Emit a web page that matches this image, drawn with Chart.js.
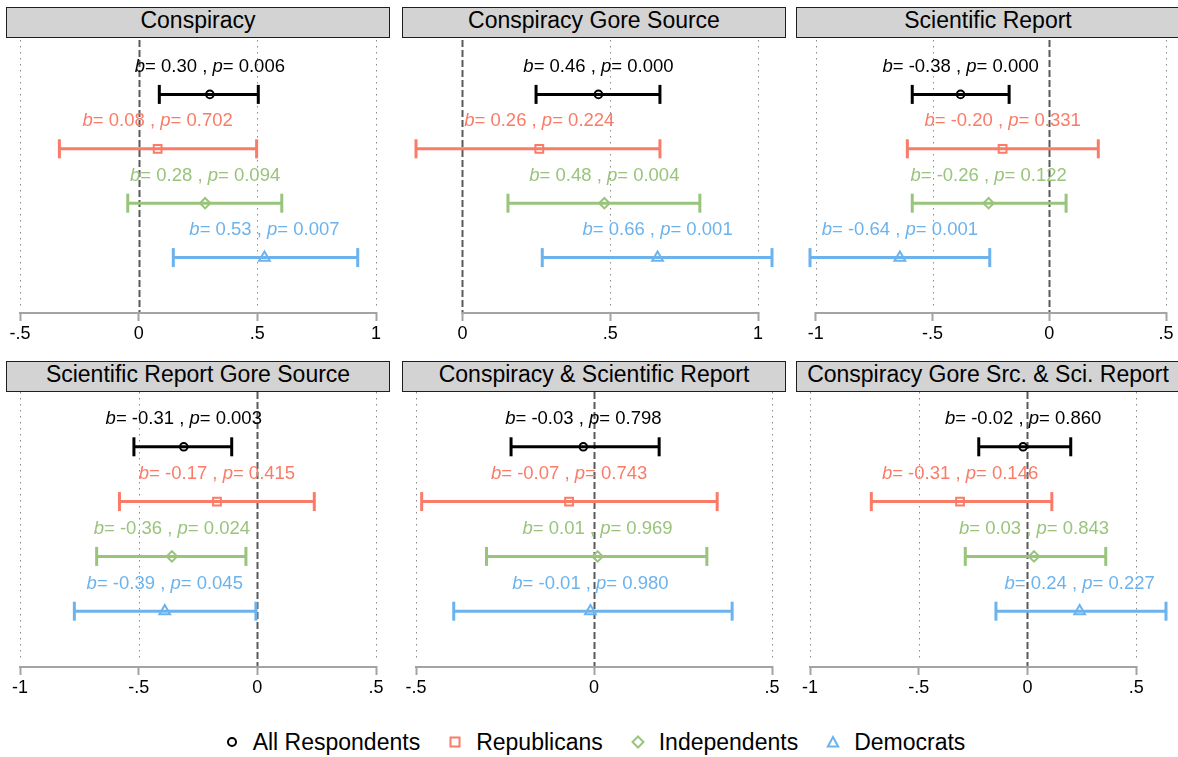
<!DOCTYPE html>
<html>
<head>
<meta charset="utf-8">
<script src="https://cdn.jsdelivr.net/npm/chart.js@4.4.1/dist/chart.umd.min.js"></script>
<style>
  html, body { margin: 0; padding: 0; background: #fff; width: 1178px; height: 757px; overflow: hidden;
    font-family: "Liberation Sans", Arial, Helvetica, sans-serif; }
  .panel-title { position: absolute; width: 384px; height: 31px; box-sizing: border-box; border: 1.5px solid #1e1e1e;
    background: #d3d3d3; font-size: 23px; line-height: 24px; text-align: center; color: #000; white-space: nowrap; overflow: hidden; }
  .panel-canvas { position: absolute; }
  #legend { position: absolute; top: 728px; left: 6px; width: 1178px; display: flex; justify-content: center;
    align-items: center; font-size: 23px; line-height: 28px; color: #000; }
  #legend .item { display: flex; align-items: center; margin: 0 14px; }
  #legend svg { margin-right: 14px; }
</style>
</head>
<body>
<div id="legend"></div>
<script>
// ---- data ----
const panelTitles = ['Conspiracy', 'Conspiracy Gore Source', 'Scientific Report',
  'Scientific Report Gore Source', 'Conspiracy & Scientific Report', 'Conspiracy Gore Src. & Sci. Report'];
const groupNames = ['All Respondents', 'Republicans', 'Independents', 'Democrats'];
const groupColors = ['#000000', '#fa7b67', '#99c47b', '#6cb3ee'];
const groupMarkers = ['circle', 'rect', 'rectRot', 'triangle'];
const markerRadius = [3.8, 5.5, 5.2, 6.2];

// one row per panel, one value per group
const estimates = [
  [0.30, 0.08, 0.28, 0.53],
  [0.46, 0.26, 0.48, 0.66],
  [-0.38, -0.20, -0.26, -0.64],
  [-0.31, -0.17, -0.36, -0.39],
  [-0.03, -0.07, 0.01, -0.01],
  [-0.02, -0.31, 0.03, 0.24]
];
const pValues = [
  [0.006, 0.702, 0.094, 0.007],
  [0.000, 0.224, 0.004, 0.001],
  [0.000, 0.331, 0.122, 0.001],
  [0.003, 0.415, 0.024, 0.045],
  [0.798, 0.743, 0.969, 0.980],
  [0.860, 0.146, 0.843, 0.227]
];
const ciLower = [
  [0.087, -0.334, -0.046, 0.146],
  [0.249, -0.157, 0.154, 0.270],
  [-0.587, -0.608, -0.587, -1.025],
  [-0.520, -0.581, -0.677, -0.771],
  [-0.233, -0.484, -0.302, -0.394],
  [-0.224, -0.718, -0.286, -0.145]
];
const ciUpper = [
  [0.504, 0.497, 0.603, 0.923],
  [0.668, 0.668, 0.803, 1.047],
  [-0.172, 0.210, 0.072, -0.255],
  [-0.108, 0.240, -0.048, -0.006],
  [0.183, 0.346, 0.317, 0.388],
  [0.199, 0.112, 0.360, 0.637]
];
const tickValues = [
  [-0.5, 0, 0.5, 1],
  [0, 0.5, 1],
  [-1, -0.5, 0, 0.5],
  [-1, -0.5, 0, 0.5],
  [-0.5, 0, 0.5],
  [-1, -0.5, 0, 0.5]
];

// ---- layout ----
const FONT = '"Liberation Sans", Arial, Helvetica, sans-serif';
const colLeft = [6, 402, 796];
const rowTop = [7, 361];
const PANEL_W = 384;

const fmtTick = (v) => {
  if (v === 0) return '0';
  return (v < 0 ? '-' : '') + String(Math.abs(v)).replace(/^0\./, '.');
};

// grid lines, zero line, axis line and b/p annotations
const makeDecor = (p) => ({
  id: 'decor' + p,
  beforeDatasetsDraw(chart) {
    const { ctx, chartArea: a, scales: { x } } = chart;
    const ticks = tickValues[p];
    ctx.save();
    ticks.forEach(v => {
      const px = Math.round(x.getPixelForValue(v)) + 0.5;
      ctx.beginPath();
      if (v === 0) {
        ctx.setLineDash([7, 3]);
        ctx.strokeStyle = '#5a5a5a';
        ctx.lineWidth = 2;
        ctx.moveTo(px, a.top);
        ctx.lineTo(px, a.bottom);
      } else {
        ctx.setLineDash([1.5, 4.5]);
        ctx.strokeStyle = '#8a8a8a';
        ctx.lineWidth = 1;
        ctx.moveTo(px, a.top);
        ctx.lineTo(px, a.bottom - 6);
      }
      ctx.stroke();
    });
    ctx.setLineDash([]);
    ctx.strokeStyle = '#a3a3a3';
    ctx.lineWidth = 2;
    ctx.beginPath();
    ctx.moveTo(x.getPixelForValue(ticks[0]) - 1, a.bottom + 1);
    ctx.lineTo(x.getPixelForValue(ticks[ticks.length - 1]) + 1, a.bottom + 1);
    ctx.stroke();
    ctx.restore();
  },
  afterDatasetsDraw(chart) {
    const { ctx, scales: { x, y } } = chart;
    ctx.save();
    ctx.textBaseline = 'alphabetic';
    groupNames.forEach((g, i) => {
      const est = estimates[p][i];
      const parts = [
        ['b', true], ['= ' + est.toFixed(2) + ' , ', false],
        ['p', true], ['= ' + pValues[p][i].toFixed(3), false]
      ];
      const fonts = parts.map(([, it]) => (it ? 'italic ' : '') + '18.5px ' + FONT);
      let total = 0;
      const widths = parts.map(([t], k) => { ctx.font = fonts[k]; const w = ctx.measureText(t).width; total += w; return w; });
      let cx = x.getPixelForValue(est) - total / 2;
      const cy = y.getPixelForValue(i + 1) - 22.5;
      ctx.fillStyle = groupColors[i];
      parts.forEach(([t], k) => { ctx.font = fonts[k]; ctx.fillText(t, cx, cy); cx += widths[k]; });
    });
    ctx.restore();
  }
});

const charts = [];
panelTitles.forEach((title, p) => {
  const col = p % 3, row = Math.floor(p / 3);

  const bar = document.createElement('div');
  bar.className = 'panel-title';
  bar.style.left = colLeft[col] + 'px';
  bar.style.top = rowTop[row] + 'px';
  bar.textContent = title;
  document.body.appendChild(bar);

  const canvas = document.createElement('canvas');
  canvas.className = 'panel-canvas';
  canvas.width = PANEL_W;
  canvas.height = 314;
  canvas.style.left = colLeft[col] + 'px';
  canvas.style.top = (rowTop[row] + 31) + 'px';
  document.body.appendChild(canvas);

  const lo = Math.min(tickValues[p][0], ...ciLower[p]);
  const hi = Math.max(tickValues[p][tickValues[p].length - 1], ...ciUpper[p]);

  const datasets = [];
  groupNames.forEach((g, i) => {
    datasets.push({
      label: g,
      data: [{ x: estimates[p][i], y: i + 1 }],
      showLine: false,
      pointStyle: groupMarkers[i],
      pointRadius: markerRadius[i],
      pointBorderWidth: 2,
      pointBorderColor: groupColors[i],
      pointBackgroundColor: 'rgba(0,0,0,0)',
      clip: false
    });
  });
  groupNames.forEach((g, i) => {
    datasets.push({
      label: g + ' CI',
      data: [{ x: ciLower[p][i], y: i + 1 }, { x: ciUpper[p][i], y: i + 1 }],
      showLine: true,
      borderColor: groupColors[i],
      borderWidth: 3,
      pointStyle: 'line',
      pointRotation: 90,
      pointRadius: 9.5,
      pointBorderWidth: 3,
      pointBorderColor: groupColors[i],
      clip: false
    });
  });

  charts.push(new Chart(canvas, {
    type: 'scatter',
    data: { datasets },
    options: {
      responsive: false,
      animation: false,
      events: [],
      layout: { autoPadding: false, padding: { left: 14, right: 14, top: row === 0 ? 2 : 0, bottom: 0 } },
      plugins: { legend: { display: false }, tooltip: { enabled: false } },
      scales: {
        x: {
          type: 'linear', min: lo, max: hi,
          afterBuildTicks: s => { s.ticks = tickValues[p].map(v => ({ value: v })); },
          afterFit: s => { s.height = 40; s.paddingLeft = 0; s.paddingRight = 0; },
          grid: { drawOnChartArea: false, drawTicks: true, tickLength: 9, tickWidth: 2, tickColor: '#a3a3a3' },
          border: { display: false },
          ticks: { autoSkip: false, maxRotation: 0, padding: 2, color: '#000',
            font: { family: FONT, size: 18 }, callback: v => fmtTick(v) }
        },
        y: { type: 'linear', min: 0, max: 5, reverse: true, display: false }
      }
    },
    plugins: [makeDecor(p)]
  }));
});

// legend
const legend = document.getElementById('legend');
const markerSvg = (i) => {
  const c = groupColors[i];
  const shapes = [
    `<circle cx="7" cy="7" r="4" fill="none" stroke="${c}" stroke-width="2"/>`,
    `<rect x="2.5" y="2.5" width="9" height="9" fill="none" stroke="${c}" stroke-width="2"/>`,
    `<polygon points="7,1.5 12.5,7 7,12.5 1.5,7" fill="none" stroke="${c}" stroke-width="2"/>`,
    `<polygon points="7,2 12.2,11.5 1.8,11.5" fill="none" stroke="${c}" stroke-width="2"/>`
  ];
  return `<svg width="14" height="14" viewBox="0 0 14 14">${shapes[i]}</svg>`;
};
groupNames.forEach((g, i) => {
  const item = document.createElement('span');
  item.className = 'item';
  item.innerHTML = markerSvg(i) + '<span>' + g + '</span>';
  legend.appendChild(item);
});
</script>
</body>
</html>
